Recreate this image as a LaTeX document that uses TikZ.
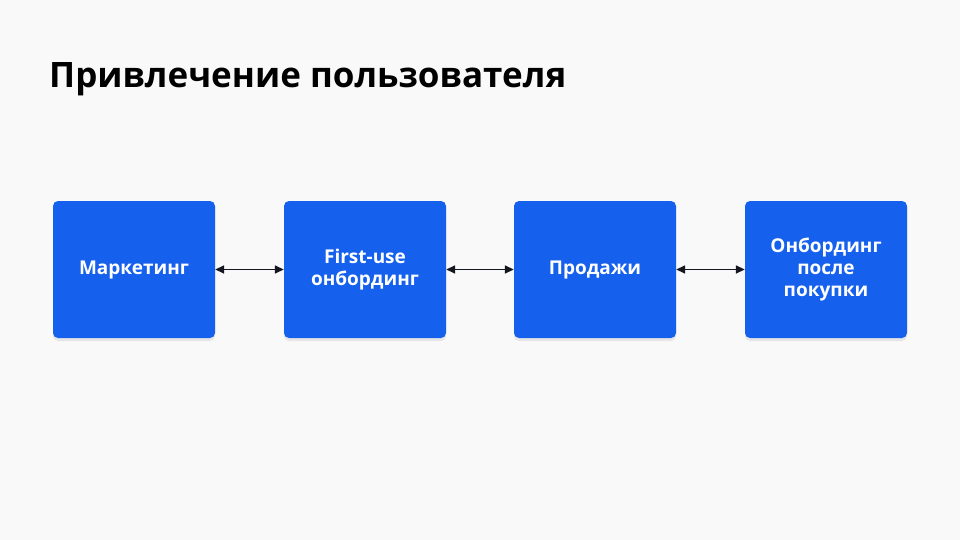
\documentclass[tikz,border=0pt]{standalone}
\usepackage{fontspec}
\setmainfont{Open Sans}
\usetikzlibrary{arrows.meta,shadows}
\definecolor{bg}{HTML}{F9F9F9}
\definecolor{boxc}{HTML}{1660EE}
\definecolor{ink}{HTML}{141720}
\tikzset{
  stepbox/.style={fill=boxc,rounded corners=5pt,minimum width=162pt,minimum height=137pt,
    text=white,font=\fontsize{19}{22}\selectfont\bfseries,align=center,inner sep=0pt,
    drop shadow={shadow xshift=0pt,shadow yshift=-3pt,opacity=0.15}},
  conn/.style={draw=ink,line width=1.6pt,{Triangle[length=9pt,width=8pt]}-{Triangle[length=9pt,width=8pt]}}
}
\begin{document}
\begin{tikzpicture}[x=1pt,y=-1pt]
\fill[bg] (0,0) rectangle (960,540);
\useasboundingbox (0,0) rectangle (960,540);
\node[anchor=base west,font=\fontsize{35}{40}\selectfont\bfseries,text=black,inner sep=0pt] (title) at (49,88) {Привлечение пользователя};
\node[stepbox] (a) at (134,269.5) {Маркетинг};
\node[stepbox] (b) at (365,269.5) {First-use\\онбординг};
\node[stepbox] (c) at (595,269.5) {Продажи};
\node[stepbox] (d) at (826,269.5) {Онбординг\\после\\покупки};
\draw[conn] (a.east) -- (b.west);
\draw[conn] (b.east) -- (c.west);
\draw[conn] (c.east) -- (d.west);
\end{tikzpicture}
\end{document}
